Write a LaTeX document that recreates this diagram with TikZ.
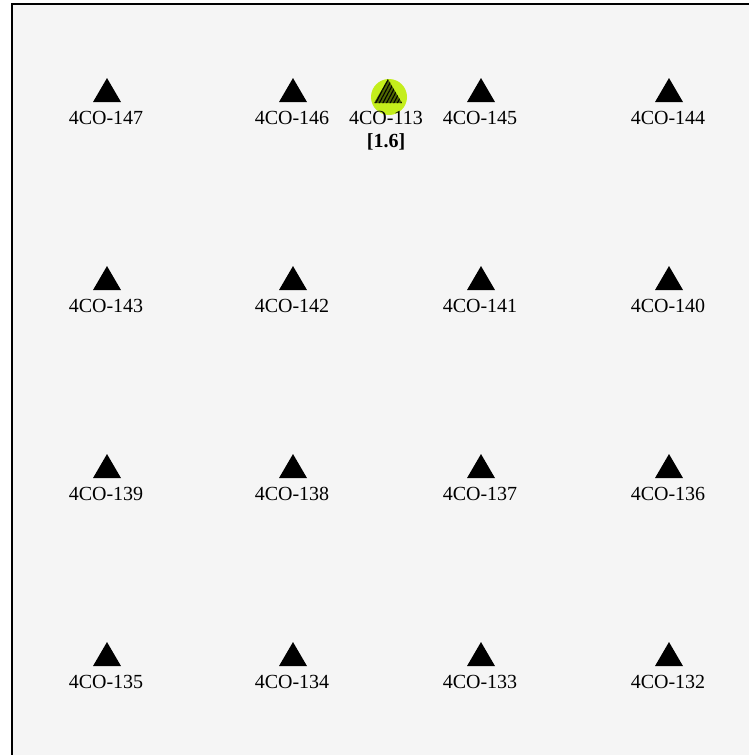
\documentclass[tikz,border=0pt]{standalone}
\usepackage{fontspec}
\setmainfont{Liberation Serif}
\usetikzlibrary{shapes.geometric,patterns.meta}
\definecolor{bgpanel}{RGB}{245,245,245}
\definecolor{hilite}{RGB}{196,238,28}
\definecolor{hatchfill}{RGB}{80,105,0}
\begin{document}
\begin{tikzpicture}[x=1pt,y=-1pt,
  sta/.style={isosceles triangle, isosceles triangle stretches, shape border rotate=90,
    minimum width=28pt, minimum height=24pt, inner sep=0pt, fill=black},
  stalabel/.style={font=\fontsize{20}{21}\selectfont, inner sep=0pt, text=black},
  valabel/.style={font=\fontsize{20}{21}\selectfont\bfseries, inner sep=0pt, text=black},
  halo/.style={circle, fill=hilite, minimum size=36pt, inner sep=0pt},
  frame/.style={line width=2pt, draw=black}]
\useasboundingbox (0,0) rectangle (749,755);
\fill[white] (0,0) rectangle (749,755);
\fill[bgpanel] (12,4) rectangle (749,755);
\draw[frame] (12,755) -- (12,4) -- (749,4);
% highlighted station
\node[halo] (h113) at (389,97) {};
\node[sta, fill=hatchfill, postaction={pattern={Lines[angle=62,distance=3.2pt,line width=1.1pt]}, pattern color=black}] (t113) at (388,95) {};
\node[stalabel] (l113) at (386,118) {4CO-113};
\node[valabel] (v113) at (386,142) {[1.6]};
% grid of stations
\foreach \nm/\cx/\cy in {147/107/94,146/293/94,145/481/94,144/669/94,
                         143/107/282,142/293/282,141/481/282,140/669/282,
                         139/107/470,138/293/470,137/481/470,136/669/470,
                         135/107/658,134/293/658,133/481/658,132/669/658}{
  \node[sta] (t\nm) at (\cx,\cy) {};
  \node[stalabel] (l\nm) at ([yshift=-24pt,xshift=-1pt]t\nm.center) {4CO-\nm};
}
\end{tikzpicture}
\end{document}
